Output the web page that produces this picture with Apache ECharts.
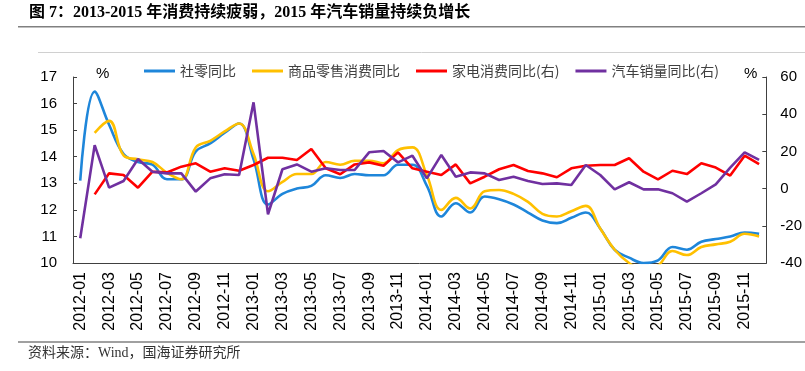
<!DOCTYPE html>
<html>
<head>
<meta charset="utf-8">
<script src="https://cdn.jsdelivr.net/npm/echarts@6/dist/echarts.min.js"></script>
<style>html,body{margin:0;padding:0;background:#fff;}#c{width:805px;height:371px;}</style>
</head>
<body>
<div id="c"></div>
<script>
var categories = [
 '2012-01','2012-02','2012-03','2012-04','2012-05','2012-06','2012-07','2012-08','2012-09','2012-10','2012-11','2012-12',
 '2013-01','2013-02','2013-03','2013-04','2013-05','2013-06','2013-07','2013-08','2013-09','2013-10','2013-11','2013-12',
 '2014-01','2014-02','2014-03','2014-04','2014-05','2014-06','2014-07','2014-08','2014-09','2014-10','2014-11','2014-12',
 '2015-01','2015-02','2015-03','2015-04','2015-05','2015-06','2015-07','2015-08','2015-09','2015-10','2015-11','2015-12'
];
var retail = [
 13.1,16.45,15.2,14.1,13.8,13.7,13.15,13.15,14.2,14.5,14.9,15.25,
 13.9,12.2,12.6,12.8,12.9,13.3,13.2,13.35,13.3,13.3,13.7,13.7,
 12.9,11.75,12.25,11.9,12.5,12.4,12.2,11.9,11.6,11.5,11.7,11.9,
 11.3,10.5,10.2,10.0,10.1,10.6,10.5,10.8,10.9,11.0,11.15,11.1
];
var goods = [
 null,14.9,15.35,14.05,13.9,13.8,13.4,13.15,14.35,14.6,14.95,15.25,
 14.1,12.7,13.05,13.35,13.35,13.8,13.7,13.85,13.85,13.75,14.25,14.35,
 13.3,12.0,12.45,12.05,12.7,12.75,12.6,12.3,11.85,11.75,11.95,12.15,
 11.3,10.5,10.0,9.75,9.9,10.45,10.3,10.6,10.7,10.8,11.1,11.0
];
var appliance = [
 null,-3.1,8.2,7.3,0.5,9.1,8.7,11.8,13.6,9.1,10.9,9.6,
 12.7,16.6,16.6,15.4,21.3,10.9,7.7,13.0,14.1,12.3,19.5,10.9,
 9.1,7.3,13.0,2.8,6.4,10.4,12.7,9.5,8.2,6.1,10.9,12.3,
 12.7,12.7,16.3,9.1,5.0,9.6,7.8,13.6,11.3,7.0,17.7,13.2
];
var autos = [
 -26.7,23.4,0.5,4.1,15.9,9.1,8.2,8.2,-1.6,5.5,7.7,7.3,
 46.4,-13.8,10.4,13.0,9.1,10.9,10.0,10.0,19.5,20.2,14.1,17.7,
 5.5,18.1,6.4,8.7,8.2,4.6,6.4,4.1,2.5,2.8,1.9,12.7,
 7.3,-0.4,3.4,-0.4,-0.4,-2.5,-7.0,-2.5,2.3,11.3,19.5,15.4
];
var seriesNames = ['社零同比','商品零售消费同比','家电消费同比(右)','汽车销量同比(右)'];
var leftTicks = {min:10, max:17, interval:1};
var rightTicks = {min:-40, max:60, interval:20};

var chart = echarts.init(document.getElementById('c'));
var axisColor = '#404040';
var sansFont = "'Liberation Sans', Arial, sans-serif";
var cjkFont = "'Noto Sans CJK SC', sans-serif";
chart.setOption({
  animation: false,
  backgroundColor: '#fff',
  grid: {left: 73, right: 32, top: 77, bottom: 108},
  legend: {
    left: 139, top: 59, itemWidth: 31, itemHeight: 3, itemGap: 16, icon: 'rect',
    textStyle: {fontSize: 14, color: '#404040', fontFamily: cjkFont},
    data: seriesNames
  },
  xAxis: {
    type: 'category', data: categories, boundaryGap: true,
    axisLine: {onZero: false, lineStyle: {color: axisColor, width: 1}},
    axisTick: {inside: true, length: 4, interval: 1, lineStyle: {color: axisColor}},
    axisLabel: {interval: 1, rotate: 90, margin: 9, fontSize: 16, color: '#000', fontFamily: sansFont},
    splitLine: {show: false}
  },
  yAxis: [
    {type: 'value', min: leftTicks.min, max: leftTicks.max, interval: leftTicks.interval,
     axisLine: {show: true, lineStyle: {color: axisColor}},
     axisTick: {show: true, inside: true, length: 4, lineStyle: {color: axisColor}},
     axisLabel: {margin: 16, fontSize: 15, color: '#000', fontFamily: sansFont},
     splitLine: {show: false}},
    {type: 'value', min: rightTicks.min, max: rightTicks.max, interval: rightTicks.interval,
     position: 'right',
     axisLine: {show: true, lineStyle: {color: axisColor}},
     axisTick: {show: true, inside: true, length: 4, lineStyle: {color: axisColor}},
     axisLabel: {margin: 14, fontSize: 15, color: '#000', fontFamily: sansFont},
     splitLine: {show: false}}
  ],
  series: [
    {name: seriesNames[0], type: 'line', data: retail, yAxisIndex: 0, smooth: 0.4, symbol: 'none',
     lineStyle: {color: '#1E86DA', width: 2.6}, itemStyle: {color: '#1E86DA'}},
    {name: seriesNames[1], type: 'line', data: goods, yAxisIndex: 0, smooth: 0.4, symbol: 'none',
     lineStyle: {color: '#FFC000', width: 2.6}, itemStyle: {color: '#FFC000'}},
    {name: seriesNames[2], type: 'line', data: appliance, yAxisIndex: 1, symbol: 'none',
     lineStyle: {color: '#FF0000', width: 2.6}, itemStyle: {color: '#FF0000'}},
    {name: seriesNames[3], type: 'line', data: autos, yAxisIndex: 1, symbol: 'none',
     lineStyle: {color: '#7030A0', width: 2.6}, itemStyle: {color: '#7030A0'}}
  ],
  graphic: [
    {type: 'text', left: 29, top: 5, style: {text: '图 7：2013-2015 年消费持续疲弱，2015 年汽车销量持续负增长',
      font: "bold 16px 'Liberation Serif', 'Noto Sans CJK SC', serif", fill: '#000'}},
    {type: 'line', shape: {x1: 18, y1: 26.7, x2: 805, y2: 26.7}, style: {stroke: '#808080', lineWidth: 1.6}},
    {type: 'line', shape: {x1: 38, y1: 52.5, x2: 805, y2: 52.5}, style: {stroke: '#d0d0d0', lineWidth: 1}},
    {type: 'text', left: 96, top: 66, style: {text: '%', font: "15px 'Liberation Sans', Arial", fill: '#000'}},
    {type: 'text', left: 744, top: 66, style: {text: '%', font: "15px 'Liberation Sans', Arial", fill: '#000'}},
    {type: 'line', shape: {x1: 18, y1: 342, x2: 805, y2: 342}, style: {stroke: '#808080', lineWidth: 1.6}},
    {type: 'text', left: 28, top: 346, style: {text: '资料来源：Wind，国海证券研究所',
      font: "14px 'Liberation Serif', 'Noto Sans CJK SC', serif", fill: '#333'}}
  ]
});
</script>
</body>
</html>
